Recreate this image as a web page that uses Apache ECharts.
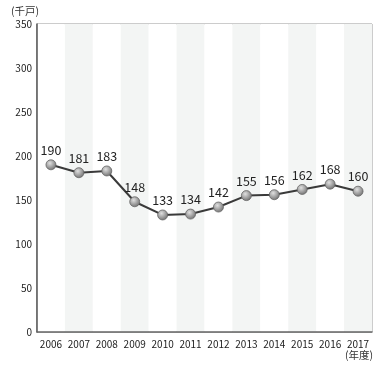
<!DOCTYPE html>
<html><head><meta charset="utf-8">
<script src="https://cdn.jsdelivr.net/npm/echarts@6/dist/echarts.min.js"></script>
<style>html,body{margin:0;padding:0;background:#fff}#c{width:385px;height:369px}</style>
</head><body><div id="c"></div>
<script>
var years = ['2006','2007','2008','2009','2010','2011','2012','2013','2014','2015','2016','2017'];
var values = [190,181,183,148,133,134,142,155,156,162,168,160];
var yTicks = [0,50,100,150,200,250,300,350];
var unitY = '(千戸)';
var unitX = '(年度)';
var chart = echarts.init(document.getElementById('c'), null, {renderer:'canvas'});
var font = '"Noto Sans CJK JP","Noto Sans",sans-serif';
chart.setOption({
  animation:false,
  grid:{left:37,right:13,top:24,bottom:37,show:true,borderColor:'#999',borderWidth:1,backgroundColor:'transparent'},
  graphic:[
    {type:'text',left:11,top:6,style:{text:unitY,font:'10.5px '+font,fill:'#333'}},
    {type:'text',right:12,top:350,style:{text:unitX,font:'10.5px '+font,fill:'#333'}}
  ],
  xAxis:{type:'category',data:years,boundaryGap:true,
    axisLine:{lineStyle:{color:'#666',width:1.5}},axisTick:{show:false},
    axisLabel:{color:'#222',fontSize:10,fontFamily:font,margin:7,interval:0},
    splitArea:{show:true,areaStyle:{color:['#ffffff','#f3f5f4']}},
    splitLine:{show:false}},
  yAxis:{type:'value',min:yTicks[0],max:yTicks[yTicks.length-1],interval:50,
    axisLine:{show:true,lineStyle:{color:'#555',width:1.5}},axisTick:{show:false},
    axisLabel:{color:'#222',fontSize:10,fontFamily:font,margin:5},
    splitLine:{show:false}},
  series:[{type:'line',data:values,
    lineStyle:{color:'#3a3a3a',width:2},
    symbol:'circle',symbolSize:10,
    itemStyle:{color:new echarts.graphic.RadialGradient(0.4,0.35,0.7,[{offset:0,color:'#e0e0e0'},{offset:1,color:'#6a6a6a'}]),borderColor:'#666',borderWidth:0.8},
    label:{show:true,position:'top',distance:3,color:'#222',fontSize:12.5,fontFamily:font}
  }]
});
</script></body></html>
